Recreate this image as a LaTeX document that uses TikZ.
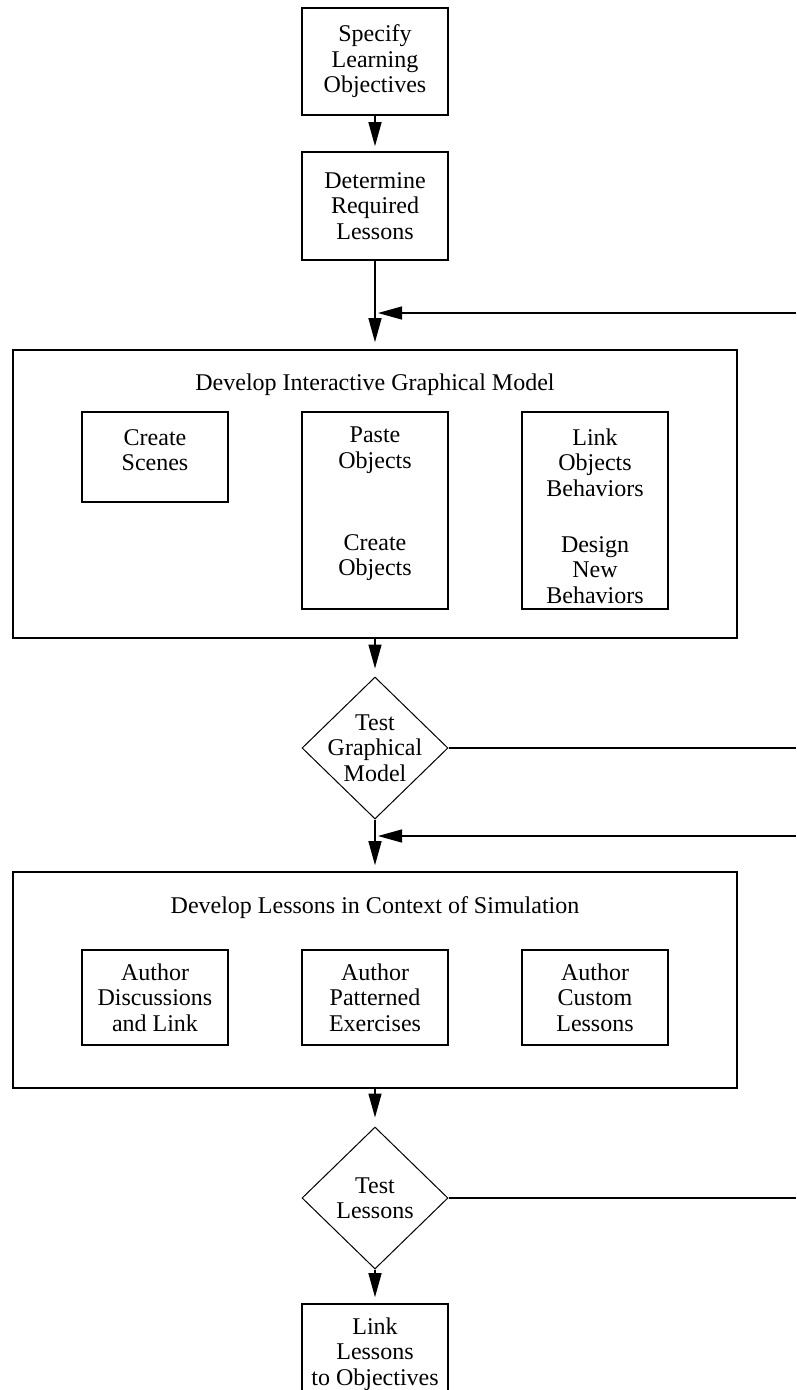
\documentclass[tikz,border=0pt]{standalone}
\usepackage{fontspec}
\setmainfont{Liberation Serif}
\usetikzlibrary{shapes.geometric,arrows.meta}
\begin{document}
\begin{tikzpicture}[x=1pt,y=-1pt,
  every node/.style={font=\fontsize{24}{25.5}\selectfont, align=center},
  box/.style={draw, line width=1.6pt, inner sep=0pt},
  dia/.style={draw, diamond, line width=1pt, inner sep=0pt, minimum width=146pt, minimum height=142pt},
  lbl/.style={inner sep=0pt},
  flow/.style={line width=1.4pt, -{Triangle[length=24pt,width=13pt]}},
  ln/.style={line width=1.6pt}]
\clip (0,0) rectangle (796,1390);
\fill[white] (0,0) rectangle (796,1390);
% top boxes
\node[box, minimum width=146pt, minimum height=107pt] (a) at (375,61.5) {Specify\\Learning\\Objectives};
\node[box, minimum width=146pt, minimum height=108pt] (b) at (375,206) {Determine\\Required\\Lessons};
\draw[flow, shorten >=5pt] (a) -- (b);
% group 1
\node[box, minimum width=724pt, minimum height=288pt] (g1) at (375,494) {};
\node[lbl, anchor=base] (g1t) at (375,390) {Develop Interactive Graphical Model};
\node[box, minimum width=146pt, minimum height=90pt] (cs) at (155,457) {};
\node[lbl] (cst) at (155,450) {Create\\Scenes};
\node[box, minimum width=146pt, minimum height=197pt] (po) at (375,510.5) {};
\node[lbl] (pot1) at (375,450) {Paste\\Objects};
\node[lbl] (pot2) at (375,557.5) {Create\\Objects};
\node[box, minimum width=146pt, minimum height=197pt] (lo) at (595,510.5) {};
\node[lbl] (lot1) at (595,462.5) {Link\\Objects\\Behaviors};
\node[lbl] (lot2) at (595,570) {Design\\New\\Behaviors};
\draw[flow, shorten >=7pt] (b) -- (g1);
\coordinate (r1) at (796,313);
\draw[flow, shorten >=3pt] (r1) -- (r1 -| b.south);
% test 1
\node[dia] (d1) at (375,748) {};
\node[lbl] (d1t) at (375,748) {Test\\Graphical\\Model};
\draw[flow, shorten >=8pt] (g1) -- (d1);
\coordinate (r2) at (796,748);
\draw[ln] (d1.east) -- (r2);
% group 2
\node[box, minimum width=724pt, minimum height=216pt] (g2) at (375,980) {};
\node[lbl, anchor=base] (g2t) at (375,913) {Develop Lessons in Context of Simulation};
\node[box, minimum width=146pt, minimum height=95pt] (ad) at (155,997.5) {Author\\Discussions\\and Link};
\node[box, minimum width=146pt, minimum height=95pt] (ap) at (375,997.5) {Author\\Patterned\\Exercises};
\node[box, minimum width=146pt, minimum height=95pt] (ac) at (595,997.5) {Author\\Custom\\Lessons};
\draw[flow, shorten >=6pt] (d1) -- (g2);
\coordinate (r3) at (796,836);
\draw[flow, shorten >=3pt] (r3) -- (r3 -| d1.south);
% test 2
\node[dia, minimum height=142pt] (d2) at (375,1198) {};
\node[lbl] (d2t) at (375,1198) {Test\\Lessons};
\draw[flow, shorten >=9pt] (g2) -- (d2);
\coordinate (r4) at (796,1198);
\draw[ln] (d2.east) -- (r4);
% final
\node[box, minimum width=146pt, minimum height=100pt] (f) at (375,1354) {Link\\Lessons\\to Objectives};
\draw[flow, shorten >=6pt] (d2) -- (f);
\end{tikzpicture}
\end{document}
